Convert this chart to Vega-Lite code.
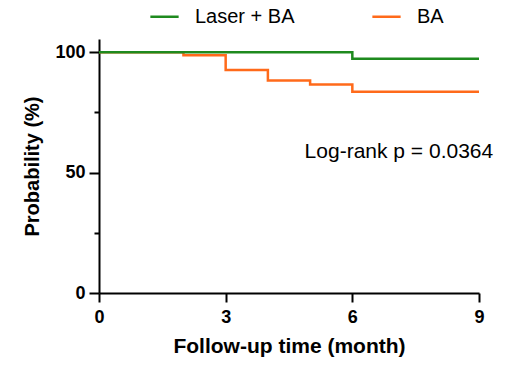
{
  "$schema": "https://vega.github.io/schema/vega-lite/v6.json",
  "width": 380,
  "height": 254,
  "autosize": "none",
  "padding": {"left": 99, "top": 39, "right": 47, "bottom": 77},
  "background": "white",
  "config": {
    "font": "Liberation Sans",
    "view": {"stroke": null}
  },
  "datasets": {
    "km": [
      {"group": "BA", "time": 0, "prob": 100},
      {"group": "BA", "time": 2, "prob": 98.7},
      {"group": "BA", "time": 3, "prob": 92.6},
      {"group": "BA", "time": 4, "prob": 88.3},
      {"group": "BA", "time": 5, "prob": 86.6},
      {"group": "BA", "time": 6, "prob": 83.6},
      {"group": "BA", "time": 9, "prob": 83.6},
      {"group": "Laser + BA", "time": 0, "prob": 100},
      {"group": "Laser + BA", "time": 6, "prob": 97.3},
      {"group": "Laser + BA", "time": 9, "prob": 97.3}
    ],
    "note": [
      {"time": 4.87, "prob": 58.6, "label": "Log-rank p = 0.0364"}
    ]
  },
  "layer": [
    {
      "data": {"name": "km"},
      "mark": {"type": "line", "interpolate": "step-after", "strokeWidth": 2.5, "clip": false},
      "encoding": {
        "x": {
          "field": "time", "type": "quantitative",
          "scale": {"domain": [0, 9], "nice": false, "zero": false},
          "axis": {
            "values": [0, 3, 6, 9], "title": "Follow-up time (month)",
            "grid": false, "domainColor": "black", "domainWidth": 2,
            "tickColor": "black", "tickWidth": 2, "tickSize": 9,
            "labelFlush": false,
            "labelFont": "Liberation Sans", "labelFontSize": 18, "labelFontWeight": "bold", "labelColor": "black",
            "labelPadding": 6,
            "titleFont": "Liberation Sans", "titleFontSize": 21, "titleFontWeight": "bold", "titleColor": "black",
            "titlePadding": 9
          }
        },
        "y": {
          "field": "prob", "type": "quantitative",
          "scale": {"domain": [0, 105.5], "nice": false},
          "axis": {
            "values": [0, 25, 50, 75, 100], "title": "Probability (%)",
            "labelExpr": "datum.value % 50 === 0 ? datum.label : ''",
            "labelFlush": false,
            "grid": false, "domainColor": "black", "domainWidth": 2,
            "tickColor": "black", "tickWidth": 2, "tickSize": 10,
            "tickDash": {"condition": {"test": "datum.value % 50 === 0", "value": []}, "value": [5, 20]},
            "labelFont": "Liberation Sans", "labelFontSize": 18, "labelFontWeight": "bold", "labelColor": "black",
            "labelPadding": 4,
            "titleFont": "Liberation Sans", "titleFontSize": 20, "titleFontWeight": "bold", "titleColor": "black",
            "titlePadding": 12
          }
        },
        "color": {
          "field": "group", "type": "nominal",
          "scale": {"domain": ["Laser + BA", "BA"], "range": ["#1e8a1e", "#ff6a1a"]},
          "legend": {
            "title": null, "orient": "none", "direction": "horizontal",
            "legendX": 50, "legendY": -38,
            "symbolType": "stroke", "symbolStrokeWidth": 2.5, "symbolSize": 800,
            "labelFont": "Liberation Sans", "labelFontSize": 20, "labelColor": "black",
            "labelOffset": 15, "columnPadding": 72
          }
        }
      }
    },
    {
      "data": {"name": "note"},
      "mark": {"type": "text", "align": "left", "baseline": "middle", "fontSize": 21, "font": "Liberation Sans", "color": "black"},
      "encoding": {
        "x": {"field": "time", "type": "quantitative"},
        "y": {"field": "prob", "type": "quantitative"},
        "text": {"field": "label"}
      }
    }
  ]
}
